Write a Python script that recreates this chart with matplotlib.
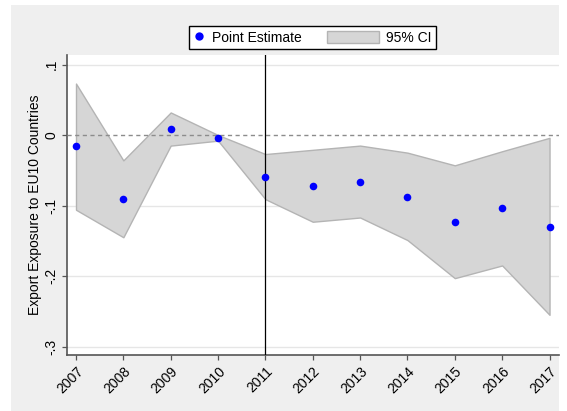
import matplotlib.pyplot as plt
from matplotlib.patches import Rectangle, Patch
from matplotlib.lines import Line2D
from matplotlib.legend_handler import HandlerPatch

# ---------- data ----------
years = [2007, 2008, 2009, 2010, 2011, 2012, 2013, 2014, 2015, 2016, 2017]
point_est = [-0.016, -0.091, 0.008, -0.004, -0.060, -0.072, -0.066, -0.088, -0.123, -0.104, -0.130]
ci_upper = [0.073, -0.036, 0.032, 0.000, -0.027, -0.021, -0.015, -0.025, -0.043, -0.023, -0.004]
ci_lower = [-0.106, -0.145, -0.015, -0.008, -0.091, -0.123, -0.117, -0.149, -0.203, -0.185, -0.255]

y_ticks = [0.1, 0.0, -0.1, -0.2, -0.3]
y_tick_labels = [".1", "0", "-.1", "-.2", "-.3"]
event_year = 2011

plt.rcParams["font.family"] = ["Liberation Sans", "DejaVu Sans"]
plt.rcParams["font.size"] = 10

fig = plt.figure(figsize=(5.67, 4.11), dpi=100)
fig.patch.set_facecolor("white")
# stata-style light gray graph region
fig.patches.append(Rectangle((11 / 567, 0), 548 / 567, 406 / 411,
                             transform=fig.transFigure, facecolor="#efefef",
                             edgecolor="none", zorder=-10))

ax = fig.add_axes([67 / 567, 56 / 411, 492 / 567, 300 / 411])
ax.set_facecolor("white")

ax.fill_between(years, ci_lower, ci_upper, facecolor="#d6d6d6",
                edgecolor="#b4b4b4", linewidth=1.0, zorder=2)
ax.scatter(years, point_est, s=30, color="#0000ff", zorder=4, linewidths=0)

ax.axhline(0, color="#8c8c8c", linestyle=(0, (3, 2.5)), linewidth=1.0, zorder=3)
ax.axvline(event_year, color="black", linewidth=0.9, zorder=3)

ax.set_xlim(2006.81, 2017.2)
ax.set_ylim(-0.312, 0.1135)

ax.set_yticks(y_ticks)
ax.set_yticklabels(y_tick_labels, rotation=90, va="center")
ax.set_xticks(years)
ax.set_xticklabels([str(y) for y in years], rotation=45, ha="right",
                   va="top", rotation_mode="anchor")

for t in y_ticks:
    if t != 0:
        ax.axhline(t, color="#e6e6e6", linewidth=1.0, zorder=1)

ax.tick_params(axis="both", length=3.5, width=0.9, color="#555555", labelsize=10)
ax.tick_params(axis="y", pad=2.5)
ax.tick_params(axis="x", pad=3)

for s in ["top", "right"]:
    ax.spines[s].set_visible(False)
for s in ["left", "bottom"]:
    ax.spines[s].set_color("#555555")
    ax.spines[s].set_linewidth(1.2)

ax.set_ylabel("Export Exposure to EU10 Countries", fontsize=10, labelpad=2)


# wide CI swatch that reaches back into the column gap
def wide_patch(legend, orig_handle, xdescent, ydescent, width, height, fontsize):
    extra = 41 / 100 * 72
    return Rectangle((-xdescent - extra, -ydescent), width + extra, height)


handles = [
    Line2D([], [], linestyle="none", marker="o", markersize=6,
           markerfacecolor="#0000ff", markeredgecolor="none"),
    Patch(facecolor="#d6d6d6", edgecolor="#b4b4b4", linewidth=1.0),
]
leg = fig.legend(handles, ["Point Estimate", "95% CI"], loc="center",
                 bbox_to_anchor=(312.5 / 567, 1 - 37.5 / 411), ncol=2,
                 frameon=True, fancybox=False, edgecolor="black",
                 facecolor="white", framealpha=1, fontsize=10,
                 handlelength=0.8, handleheight=1.0, handletextpad=0.5,
                 columnspacing=4.75, borderpad=0.35,
                 handler_map={Patch: HandlerPatch(patch_func=wide_patch)})
leg.get_frame().set_linewidth(1.0)

fig.savefig("out.png", dpi=100)
